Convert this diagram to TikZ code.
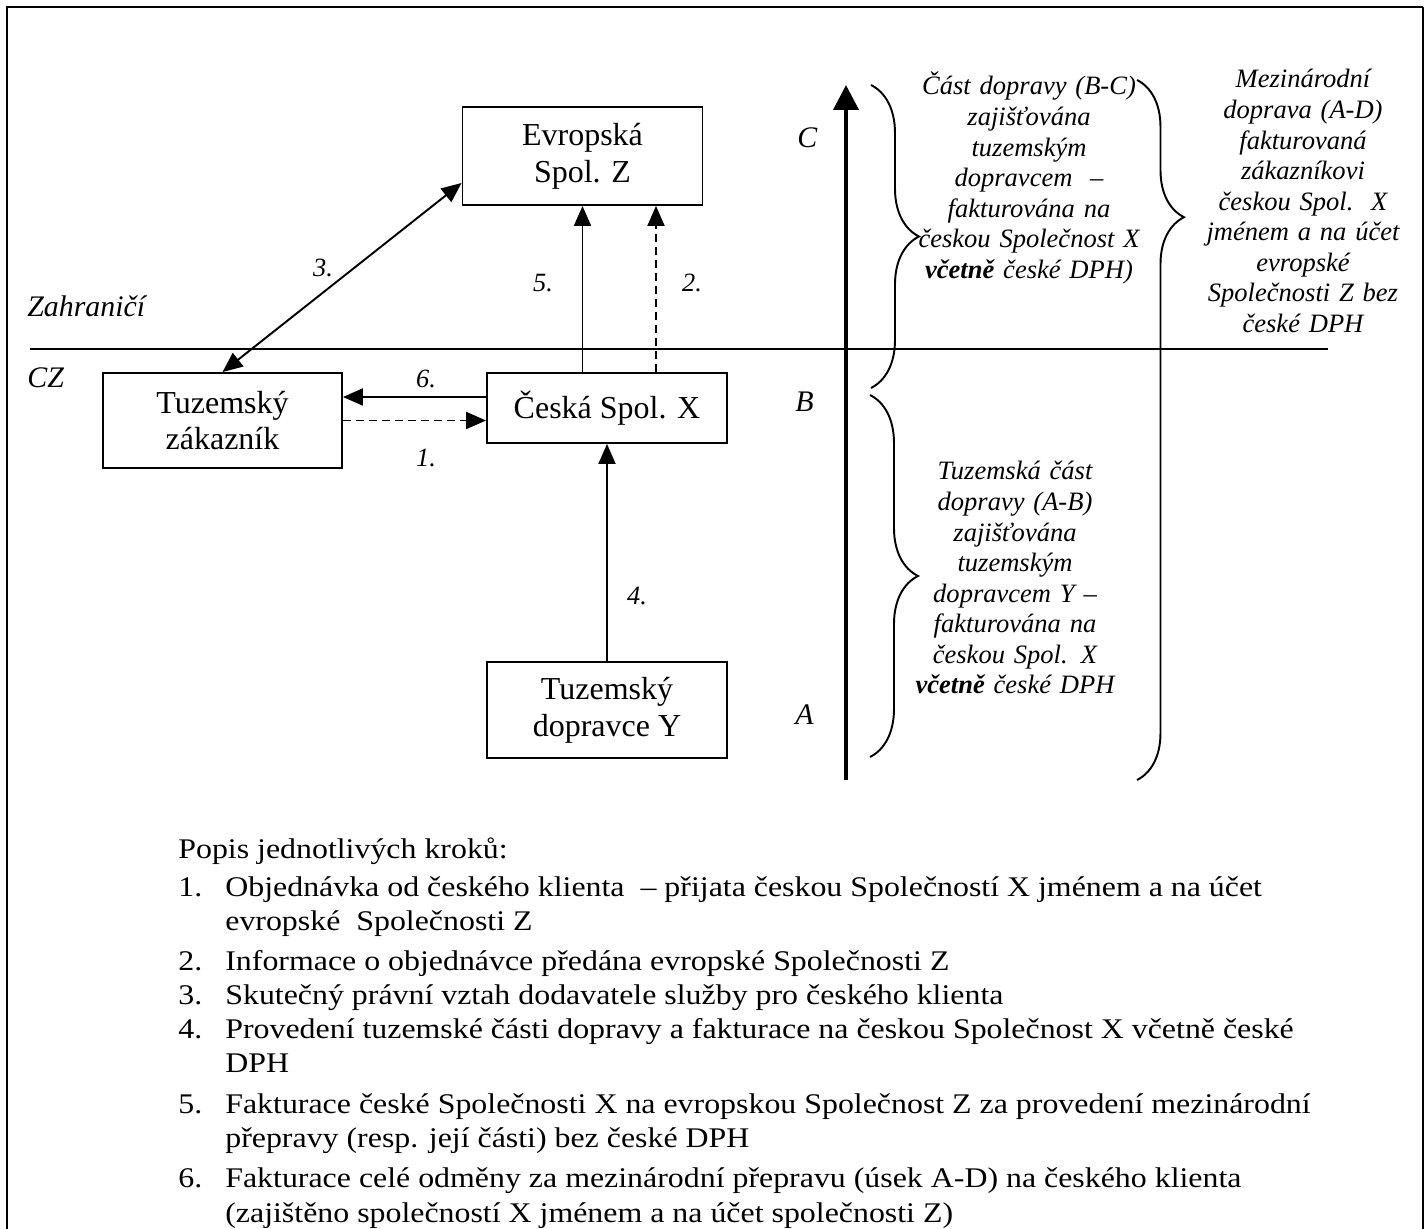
\documentclass[tikz,border=0pt]{standalone}
\usepackage{fontspec}
\setmainfont{Liberation Serif}
\newfontfamily\widefont{Liberation Serif}[FakeStretch=1.12]
\usetikzlibrary{arrows.meta,decorations.pathreplacing}

\begin{document}
\begin{tikzpicture}[x=0.02cm, y=-0.02cm, every node/.style={inner sep=0pt},
  >={Triangle[length=0.4cm,width=0.34cm]},
  box/.style={draw, line width=1.1pt, minimum width=4.8cm, align=center,
    font=\fontsize{18.2}{20.9}\selectfont},
  arr/.style={line width=1.1pt, ->},
  dsh/.style={dash pattern=on 0.16cm off 0.1cm},
  num/.style={font=\fontsize{15}{18}\selectfont\itshape, anchor=base},
  lbl/.style={font=\fontsize{17}{20}\selectfont\itshape, anchor=base west},
  side/.style={font=\fontsize{15.1}{17.4}\selectfont\itshape, align=center, anchor=base},
  brc/.style={decorate, line width=1.1pt, decoration={brace, amplitude=0.96cm}},
  lst/.style={font=\widefont\fontsize{16.2}{18.8}\selectfont, anchor=base west}]
\useasboundingbox (0,0) rectangle (1428,1229);
% ---- frame (open at the bottom)
\draw[line width=1.6pt] (7,1240) -- (7,7) -- (1423,7);
\draw[line width=1.1pt] (1423,7) -- (1423,1240);
% ---- companies
\node[box, minimum height=1.96cm] (evr) at (582.5,156) {Evropská\\Spol. Z};
\node[box, minimum height=1.9cm, minimum width=4.78cm] (zak) at (222.5,420.5) {Tuzemský\\zákazník};
\node[box, minimum height=1.4cm] (ceska) at (607,408) {Česká Spol. X};
\node[box, minimum height=1.92cm] (dopr) at (607,710) {Tuzemský\\dopravce Y};
% ---- border
\draw[line width=1.1pt] (30,349) -- (1328,349);
\node[lbl] (zahr) at (27,317) {Zahraničí};
\node[lbl] (cz) at (27,388) {CZ};
% ---- steps
\coordinate (p2) at ([xshift=0.98cm]ceska.north);
\coordinate (p3) at ([yshift=-0.54cm]evr.west);
\coordinate (p6) at ([yshift=0.22cm]ceska.west);
\draw[arr, dsh] (zak.east) -- (zak.east -| ceska.west);
\draw[arr, dsh] (p2) -- (p2 |- evr.south);
\draw[line width=1.1pt, <->] (zak.north) -- (p3);
\draw[arr] (dopr.north) -- (ceska.south);
\draw[arr] (ceska.north -| evr.south) -- (evr.south);
\draw[arr] (p6) -- (p6 -| zak.east);
\node[num] (n1) at (426,467) {1.};
\node[num] (n2) at (692,292) {2.};
\node[num] (n3) at (323,277) {3.};
\node[num] (n4) at (637,605) {4.};
\node[num] (n5) at (543,292) {5.};
\node[num] (n6) at (426,388) {6.};
% ---- route A-B-C
\coordinate (ax0) at (846,780);
\coordinate (ax1) at (846,85);
\draw[line width=2.3pt, -{Triangle[length=0.5cm,width=0.5cm]}] (ax0) -- (ax1);
\node[lbl] (lc) at (797,148) {C};
\node[lbl] (lb) at (795,412) {B};
\node[lbl] (la) at (795,725) {A};
\draw[brc] (871,85) -- (871,388);
\draw[brc] (870,395) -- (870,757);
\draw[brc, decoration={amplitude=0.94cm, aspect=0.196}] (1137,80) -- (1137,780);
\node[side, text width=4.6cm] (bc) at (1029,95)
  {Část dopravy (B-C)\\ zajišťována\\ tuzemským\\ dopravcem \ –\\ fakturována na\\
   českou Společnost X\\ \textbf{včetně} české DPH)};
\node[side, text width=4.4cm] (ad) at (1303,88)
  {Mezinárodní\\ doprava (A-D)\\ fakturovaná\\ zákazníkovi\\ českou Spol.\ \ X\\
   jménem a na účet\\ evropské\\ Společnosti Z bez\\ české DPH};
\node[side, text width=4.4cm] (ab) at (1015,480)
  {Tuzemská část\\ dopravy (A-B)\\ zajišťována\\ tuzemským\\ dopravcem Y –\\
   fakturována na\\ českou Spol. X\\ \textbf{včetně} české DPH};
% ---- description of the steps
\node[lst] (popis) at (178,859) {Popis jednotlivých kroků:};
\foreach \yy/\nn/\txt in {
  897/1./{Objednávka od českého klienta \ – přijata českou Společností X jménem a na účet},
  930//{evropské \ Společnosti Z},
  970/2./{Informace o objednávce předána evropské Společnosti Z},
  1004/3./{Skutečný právní vztah dodavatele služby pro českého klienta},
  1038/4./{Provedení tuzemské části dopravy a fakturace na českou Společnost X včetně české},
  1072//{DPH},
  1113/5./{Fakturace české Společnosti X na evropskou Společnost Z za provedení mezinárodní},
  1147//{přepravy (resp. její části) bez české DPH},
  1187/6./{Fakturace celé odměny za mezinárodní přepravu (úsek A-D) na českého klienta},
  1222//{(zajištěno společností X jménem a na účet společnosti Z)}}
{
  \node[lst] (k\yy) at (178,\yy) {\nn};
  \node[lst] (t\yy) at (225,\yy) {\txt};
}
\end{tikzpicture}
\end{document}
